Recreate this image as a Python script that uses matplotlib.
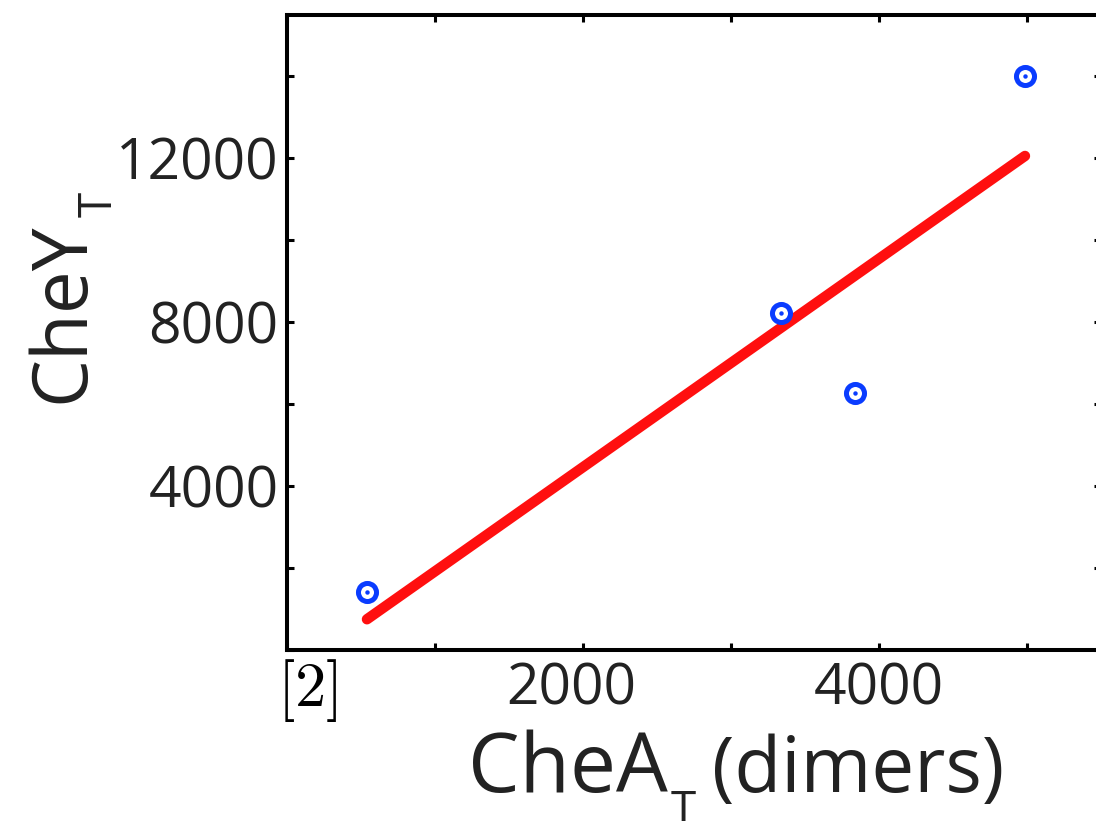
import matplotlib
matplotlib.use("Agg")
import matplotlib.pyplot as plt
import matplotlib.ticker as ticker
import matplotlib.transforms as mtransforms

plt.rcParams["font.family"] = ["Open Sans", "DejaVu Sans"]

# measured points (CheA_T dimers vs CheY_T)
chea = [540, 3338, 3838, 4986]
chey = [1418, 8215, 6284, 14010]

# fitted line, end points
fit_x = [540, 4986]
fit_y = [750, 12060]

x_major = [2000, 4000]
y_major = [4000, 8000, 12000]

W, H = 1096, 821
fig = plt.figure(figsize=(W / 100, H / 100), dpi=100)
ax = fig.add_axes([0.2619, 0.2083, 0.7427, 0.7734])


def px(x, y):
    # pixel position (from top-left) -> figure fraction
    return x / W, 1 - y / H


ax.plot(fit_x, fit_y, color="#ff0f0f", linewidth=7.5, solid_capstyle="round", zorder=2)
ax.plot(chea, chey, linestyle="none", marker="o", markersize=13,
        markerfacecolor="white", markeredgecolor="#0a3cff", markeredgewidth=3.6, zorder=3)
ax.plot(chea, chey, linestyle="none", marker="o", markersize=3.2,
        markerfacecolor="#0a3cff", markeredgecolor="none", zorder=4)

ax.set_xlim(0, 5500)
ax.set_ylim(0, 15500)

ax.xaxis.set_major_locator(ticker.FixedLocator(x_major))
ax.xaxis.set_minor_locator(ticker.MultipleLocator(1000))
ax.yaxis.set_major_locator(ticker.FixedLocator(y_major))
ax.yaxis.set_minor_locator(ticker.MultipleLocator(2000))

ax.tick_params(which="both", direction="in", top=True, right=True,
               width=2.2, color="black")
ax.tick_params(which="major", length=5, labelsize=41, labelcolor="#222222")
ax.tick_params(which="minor", length=5)
ax.tick_params(axis="x", which="major", pad=8)
ax.tick_params(axis="y", which="major", pad=6)

# the "2000" label sits a little left of its tick in the original
t0 = ax.xaxis.get_major_ticks(len(x_major))[0].label1
t0.set_transform(t0.get_transform() + mtransforms.ScaledTranslation(-0.12, 0, fig.dpi_scale_trans))

for sp in ax.spines.values():
    sp.set_linewidth(2.9)

# axis labels built from pieces so the low subscript T sits like the original
lab = dict(color="#222222", ha="left", va="baseline")
fig.text(*px(468, 792), "CheA", fontsize=59, **lab)
fig.text(*px(671, 789), "T", fontsize=33, color="#222222", ha="left", va="top")
fig.text(*px(712, 792), "(dimers)", fontsize=55, **lab)

fig.text(*px(83, 403), "CheY", fontsize=55, rotation=90, rotation_mode="anchor", **lab)
fig.text(*px(112, 217), "T", fontsize=33, rotation=90, rotation_mode="anchor", **lab)

fig.text(*px(277, 690), r"$\mathrm{[2]}$", fontsize=45, math_fontfamily="cm",
         ha="left", va="center", color="black")

fig.savefig("out.png", dpi=100)
